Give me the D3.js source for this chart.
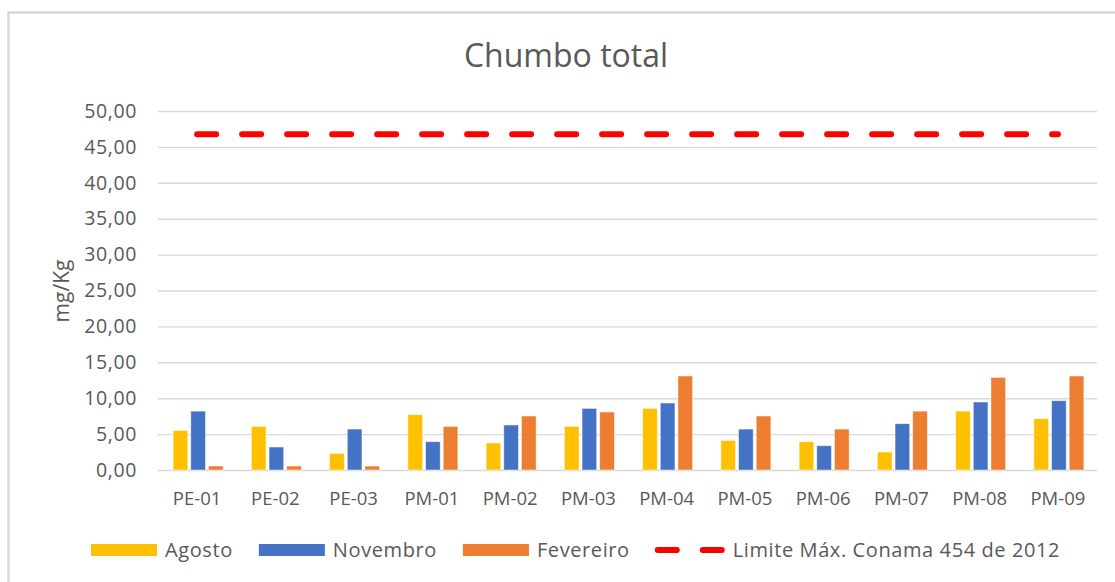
<!DOCTYPE html>
<html>
<head>
<meta charset="utf-8">
<script src="https://cdn.jsdelivr.net/npm/d3@7"></script>
<style>
  body { margin: 0; background: #fff; }
  text { font-family: "Open Sans", "Liberation Sans", sans-serif; fill: #595959; }
</style>
</head>
<body>
<div id="chart"></div>
<script>
// data
let categories = ["PE-01", "PE-02", "PE-03", "PM-01", "PM-02", "PM-03", "PM-04", "PM-05", "PM-06", "PM-07", "PM-08", "PM-09"];
let seriesNames = ["Agosto", "Novembro", "Fevereiro"];
let agosto    = [5.5, 6.07, 2.3, 7.7, 3.76, 6.07, 8.58, 4.12, 3.94, 2.5, 8.2, 7.14];
let novembro  = [8.2, 3.2, 5.7, 3.94, 6.27, 8.58, 9.33, 5.7, 3.38, 6.45, 9.47, 9.65];
let fevereiro = [0.55, 0.55, 0.55, 6.07, 7.52, 8.08, 13.09, 7.52, 5.7, 8.2, 12.9, 13.09];
let limite    = [46.75, 46.75, 46.75, 46.75, 46.75, 46.75, 46.75, 46.75, 46.75, 46.75, 46.75, 46.75];
let limiteName = "Limite Máx. Conama 454 de 2012";
let yTicks = [0, 5, 10, 15, 20, 25, 30, 35, 40, 45, 50];

let width = 1115;
let height = 582;
let margin = ({top: 111, right: 18, bottom: 112, left: 158});

let colors = d3.scaleOrdinal()
    .domain(seriesNames)
    .range(["#FFC000", "#4472C4", "#ED7D31"]);

let locale = d3.formatLocale({decimal: ",", thousands: ".", grouping: [3], currency: ["R$", ""]});
let fmt = locale.format(".2f");

let svg = d3.select("#chart").append("svg")
    .attr("width", width)
    .attr("height", height);

// outer chart border (only top / left visible)
svg.append("rect")
    .attr("x", 8.5).attr("y", 12.5)
    .attr("width", width + 20).attr("height", height + 20)
    .attr("fill", "none")
    .attr("stroke", "#d9d9d9")
    .attr("stroke-width", 2.5);

let xScale = d3.scaleBand()
    .domain(categories)
    .range([margin.left, width - margin.right])
    .padding(0);

let yScale = d3.scaleLinear()
    .domain([0, 50])
    .range([height - margin.bottom, margin.top]);

let inner = d3.scaleBand()
    .domain(seriesNames)
    .range([-25, 25])
    .paddingInner(0.17);

// title
svg.append("text")
    .attr("x", 566)
    .attr("y", 67)
    .attr("text-anchor", "middle")
    .style("font-size", "32px")
    .text("Chumbo total");

// gridlines + y labels
let yAxis = svg.append("g")
    .attr("class", "y axis")
    .attr("transform", "translate(" + margin.left + ",0)")
    .call(d3.axisLeft(yScale)
        .tickValues(yTicks)
        .tickFormat(fmt)
        .tickSize(-(width - margin.left - margin.right))
        .tickPadding(21));
yAxis.select(".domain").remove();
yAxis.selectAll(".tick line").attr("stroke", "#d9d9d9").attr("stroke-width", 1.4);
yAxis.selectAll(".tick text")
    .attr("fill", "#595959")
    .style("font-size", "19.5px")
    .style("letter-spacing", "0.6px")
    .style("font-family", "'Open Sans', sans-serif");

// y axis title
svg.append("text")
    .attr("transform", "translate(69,291) rotate(-90)")
    .attr("text-anchor", "middle")
    .style("font-size", "21px")
    .text("mg/Kg");

// x labels
let xAxis = svg.append("g")
    .attr("class", "x axis")
    .attr("transform", "translate(0," + (height - margin.bottom) + ")")
    .call(d3.axisBottom(xScale).tickSize(0).tickPadding(22));
xAxis.select(".domain").remove();
xAxis.selectAll(".tick text")
    .attr("fill", "#595959")
    .style("font-size", "18.5px")
    .style("font-family", "'Open Sans', sans-serif");

// bars
let table = categories.map(function(c, i) {
    return {cat: c, values: [
        {name: "Agosto", v: agosto[i]},
        {name: "Novembro", v: novembro[i]},
        {name: "Fevereiro", v: fevereiro[i]}
    ]};
});

let groups = svg.selectAll(".grp")
    .data(table)
    .enter().append("g")
    .attr("class", "grp")
    .attr("transform", function(d) { return "translate(" + (xScale(d.cat) + xScale.bandwidth() / 2 + 1) + ",0)"; });

groups.selectAll("rect")
    .data(function(d) { return d.values; })
    .enter().append("rect")
    .attr("x", function(d) { return inner(d.name); })
    .attr("width", inner.bandwidth())
    .attr("y", function(d) { return yScale(d.v); })
    .attr("height", function(d) { return yScale(0) - yScale(d.v); })
    .attr("fill", function(d) { return colors(d.name); })
    .attr("stroke", "#fff")
    .attr("stroke-opacity", 0.6)
    .attr("stroke-width", 0.8);

// limit line
let line = d3.line()
    .x(function(d, i) { return xScale(categories[i]) + xScale.bandwidth() / 2; })
    .y(function(d) { return yScale(d); });

svg.append("path")
    .datum(limite)
    .attr("d", line)
    .attr("fill", "none")
    .attr("stroke", "#FF0000")
    .attr("stroke-width", 6)
    .attr("stroke-linecap", "round")
    .attr("stroke-dasharray", "19,26");

// legend
let legend = svg.append("g").attr("class", "legend");
let lx = 91;
let ly = 550;
seriesNames.forEach(function(name) {
    legend.append("rect")
        .attr("x", lx).attr("y", ly - 6)
        .attr("width", 66).attr("height", 12)
        .attr("fill", colors(name));
    let t = legend.append("text")
        .attr("x", lx + 74).attr("y", ly + 7)
        .style("font-size", "20px")
        .style("letter-spacing", "0.6px")
        .text(name);
    lx = lx + 74 + t.node().getComputedTextLength() + 26;
});
legend.append("line")
    .attr("x1", lx + 2).attr("x2", lx + 67)
    .attr("y1", ly).attr("y2", ly)
    .attr("stroke", "#FF0000")
    .attr("stroke-width", 6)
    .attr("stroke-linecap", "round")
    .attr("stroke-dasharray", "19,26");
legend.append("text")
    .attr("x", lx + 77).attr("y", ly + 7)
    .style("font-size", "20px")
    .style("letter-spacing", "0.6px")
    .text(limiteName);
</script>
</body>
</html>
